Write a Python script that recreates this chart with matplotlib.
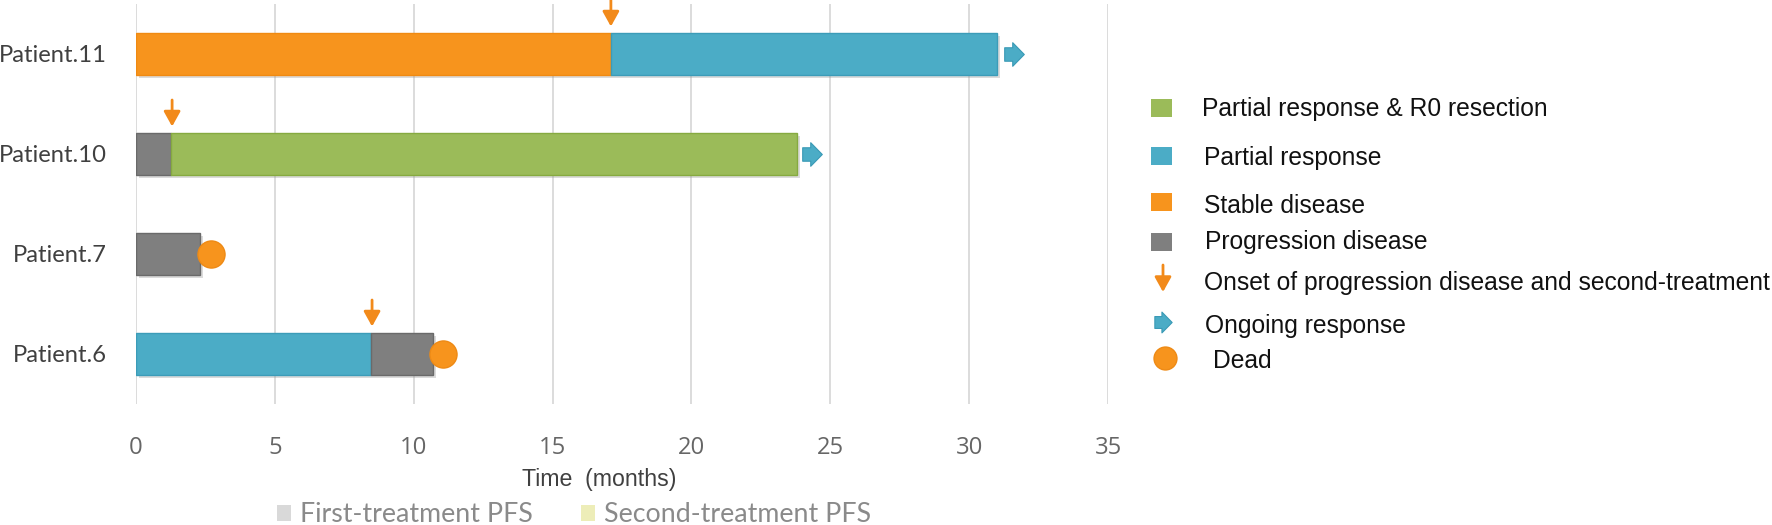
import numpy as np
import matplotlib
matplotlib.use('Agg')
import matplotlib.pyplot as plt
import matplotlib.patheffects as pe
import matplotlib.transforms as mtransforms
from matplotlib.path import Path
from matplotlib.patches import Rectangle

#patients, bottom to top
patients = ['Patient.6', 'Patient.7', 'Patient.10', 'Patient.11']

#bar segments (months)
seg_patient = ['Patient.11', 'Patient.11', 'Patient.10', 'Patient.10', 'Patient.7', 'Patient.6', 'Patient.6']
seg_start = [0.0, 17.1, 0.0, 1.25, 0.0, 0.0, 8.45]
seg_end = [17.1, 31.0, 1.25, 23.8, 2.3, 8.45, 10.7]
seg_state = ['SD', 'PR', 'PD', 'PR_R0', 'PD', 'PR', 'PD']

#onset of progression / second treatment
onset_patient = ['Patient.11', 'Patient.10', 'Patient.6']
onset_time = [17.1, 1.3, 8.5]

#ongoing response
ongoing_patient = ['Patient.11', 'Patient.10']
ongoing_time = [31.6, 24.35]

#dead
dead_patient = ['Patient.7', 'Patient.6']
dead_time = [2.7, 11.05]

xticks = [0, 5, 10, 15, 20, 25, 30, 35]

legend_labels = ['Partial response & R0 resection', 'Partial response', 'Stable disease',
                 'Progression disease', 'Onset of progression disease and second-treatment',
                 'Ongoing response', 'Dead']
bottom_labels = ['First-treatment PFS', 'Second-treatment PFS']

fill = {'PR_R0': '#9BBB59', 'PR': '#4BACC6', 'SD': '#F7941D', 'PD': '#7F7F7F'}
edge = {'PR_R0': '#86AA40', 'PR': '#3C9CB8', 'SD': '#F08A12', 'PD': '#6A6A6A'}
orange = '#F7941D'
arrow_orange = '#F28A1A'
blue = '#4BACC6'

#block arrow marker for ongoing response
verts = [(-0.83, -0.57), (-0.15, -0.57), (-0.15, -1.0), (0.83, 0.0), (-0.15, 1.0),
         (-0.15, 0.57), (-0.83, 0.57), (-0.83, -0.57)]
codes = [Path.MOVETO] + [Path.LINETO] * 6 + [Path.CLOSEPOLY]
block_arrow = Path(verts, codes)

W, H = 1772, 525
fig = plt.figure(figsize=(W / 100, H / 100), dpi=100)
renderer = fig.canvas.get_renderer()


def fit_size(text, family, target_w, size0=20):
    #font size that makes text about target_w pixels wide
    t = fig.text(0, 0, text, fontsize=size0, family=family)
    w = t.get_window_extent(renderer).width
    t.remove()
    return size0 * target_w / w


ax = fig.add_axes([136 / W, 1 - 404 / H, (1108 - 136) / W, 400 / H])

ypos = {p: i for i, p in enumerate(patients)}
shadow = [pe.SimplePatchShadow(offset=(2, -2.5), shadow_rgbFace='#999999', alpha=0.35), pe.Normal()]

for p, s, e, st in zip(seg_patient, seg_start, seg_end, seg_state):
    ax.barh(ypos[p], e - s, left=s, height=0.42, color=fill[st], edgecolor=edge[st],
            linewidth=1.0, zorder=3, path_effects=shadow)

for p, t in zip(onset_patient, onset_time):
    y = ypos[p]
    ax.annotate('', xy=(t, y + 0.275), xytext=(t, y + 0.54), annotation_clip=False,
                arrowprops=dict(arrowstyle='-|>,head_length=0.45,head_width=0.25',
                                color=arrow_orange, lw=2, mutation_scale=20,
                                shrinkA=0, shrinkB=0), zorder=4)

ax.plot(ongoing_time, [ypos[p] for p in ongoing_patient], linestyle='none',
        marker=block_arrow, markersize=17, color=blue, markeredgecolor='#3A9AB6',
        markeredgewidth=0.8, zorder=4, clip_on=False)

ax.plot(dead_time, [ypos[p] for p in dead_patient], linestyle='none', marker='o',
        markersize=19.5, color=orange, markeredgecolor='#EE8A15', markeredgewidth=1,
        zorder=5, clip_on=False)

ax.set_xlim(0, 35)
ax.set_ylim(-0.5, 3.5)
ax.set_xticks(xticks)
ax.set_xticklabels([])
ylab_size = fit_size('Patient.7', 'Lato', 94)
ax.set_yticks(range(len(patients)))
ax.set_yticklabels(patients, fontsize=ylab_size, color='#404040', family='Lato')
ax.tick_params(axis='x', length=0)
ax.tick_params(axis='y', length=0, pad=29 * 0.72)
ax.grid(axis='x', color='#D9D9D9', linewidth=1.3, zorder=0)
ax.set_axisbelow(True)
for sp in ax.spines.values():
    sp.set_visible(False)

#overlay in pixel coords for the legends and axis title
ov = fig.add_axes([0, 0, 1, 1], zorder=-1)
ov.set_xlim(0, W)
ov.set_ylim(H, 0)
ov.axis('off')
ov.patch.set_alpha(0)

#x tick labels: data x, pixel y
tick_size = fit_size('30', 'Open Sans', 27)
xtrans = mtransforms.blended_transform_factory(ax.transData, ov.transData)
for v in xticks:
    ax.text(v, 445 + 0.36 * tick_size / 0.72, str(v), transform=xtrans, fontsize=tick_size,
            color='#666666', family='Open Sans', ha='center', va='baseline', clip_on=False)

xl_size = fit_size('Time  (months)', 'Liberation Sans', 155)
ov.text(599, 478 + 0.36 * xl_size / 0.72, 'Time  (months)', fontsize=xl_size, color='#404040',
        family='Liberation Sans', ha='center', va='baseline')

leg_size = fit_size(legend_labels[4], 'Liberation Sans', 566)
txt_rows = [107, 156, 204, 240, 281, 324, 359]
txt_x = [1202, 1204, 1204, 1205, 1204, 1205, 1213]
sq_rows = [108, 156, 202, 242]
for y, c in zip(sq_rows, ['PR_R0', 'PR', 'SD', 'PD']):
    ov.add_patch(Rectangle((1151, y - 9), 21, 18, facecolor=fill[c], edgecolor='none'))
ov.annotate('', xy=(1163, 292), xytext=(1163, 265),
            arrowprops=dict(arrowstyle='-|>,head_length=0.45,head_width=0.25',
                            color=arrow_orange, lw=2, mutation_scale=20, shrinkA=0, shrinkB=0))
ov.plot([1163], [322], marker=block_arrow, markersize=15, color=blue,
        markeredgecolor='#3A9AB6', markeredgewidth=0.8)
ov.plot([1165], [358], marker='o', markersize=16.5, color=orange,
        markeredgecolor='#EE8A15', markeredgewidth=1)
for lab, y, x in zip(legend_labels, txt_rows, txt_x):
    ov.text(x, y + 0.36 * leg_size / 0.72, lab, fontsize=leg_size, color='#111111',
            family='Liberation Sans', ha='left', va='baseline')

bl_size = fit_size(bottom_labels[0], 'Lato', 232)
for lab, x, c in zip(bottom_labels, [277, 581], ['#D9D9D9', '#EDEDB8']):
    ov.add_patch(Rectangle((x, 505), 14, 16, facecolor=c, edgecolor='none'))
    ov.text(x + 23, 522, lab, fontsize=bl_size, color='#8A8A8A', family='Lato',
            ha='left', va='baseline')

fig.savefig('out.png', dpi=100)
